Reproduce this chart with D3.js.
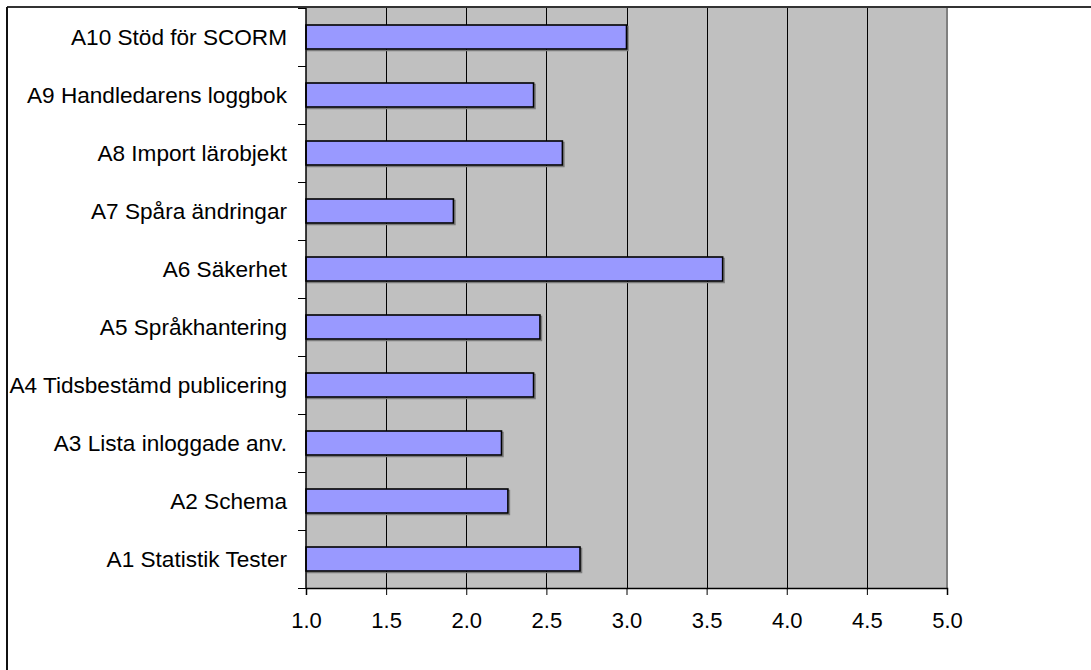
<!DOCTYPE html>
<html>
<head>
<meta charset="utf-8">
<script src="https://cdn.jsdelivr.net/npm/d3@7"></script>
<style>
  html, body { margin: 0; padding: 0; background: #fff; }
  svg { display: block; }
  text { font-family: "Liberation Sans", Arial, sans-serif; fill: #000; }
</style>
</head>
<body>
<svg id="chart" width="1091" height="670"></svg>
<script>
// Categories, listed top to bottom
const categories = [
  "A10 Stöd för SCORM",
  "A9 Handledarens loggbok",
  "A8 Import lärobjekt",
  "A7 Spåra ändringar",
  "A6 Säkerhet",
  "A5 Språkhantering",
  "A4 Tidsbestämd publicering",
  "A3 Lista inloggade anv.",
  "A2 Schema",
  "A1 Statistik Tester"
];
// Mean scores per category
const values = [3.0, 2.42, 2.6, 1.92, 3.6, 2.46, 2.42, 2.22, 2.26, 2.71];
// Value axis
const xDomain = [1, 5];
const xTicks = [1.0, 1.5, 2.0, 2.5, 3.0, 3.5, 4.0, 4.5, 5.0];

const svg = d3.select("#chart");
const W = 1091, H = 670;
const plot = { left: 306, right: 947, top: 8, bottom: 588 };

const x = d3.scaleLinear().domain(xDomain).range([plot.left, plot.right]);
const pad = 1 - 24 / 58;
const y = d3.scaleBand().domain(categories)
  .range([plot.top, plot.bottom])
  .paddingInner(pad).paddingOuter(pad / 2);

// Outer frame (top and left edges)
svg.append("line").attr("x1", 7).attr("x2", W).attr("y1", 7).attr("y2", 7)
  .attr("stroke", "#333").attr("stroke-width", 2);
svg.append("line").attr("x1", 7).attr("x2", 7).attr("y1", 7).attr("y2", H)
  .attr("stroke", "#111").attr("stroke-width", 2);

// Plot background
svg.append("rect")
  .attr("x", plot.left).attr("y", plot.top)
  .attr("width", plot.right - plot.left).attr("height", plot.bottom - plot.top)
  .attr("fill", "#c0c0c0");
svg.append("line")
  .attr("x1", plot.right).attr("x2", plot.right)
  .attr("y1", plot.top).attr("y2", plot.bottom)
  .attr("stroke", "#808080").attr("stroke-width", 2);

// Vertical gridlines
svg.append("g").selectAll("line")
  .data(xTicks.filter(t => t > xDomain[0] && t < xDomain[1]))
  .join("line")
  .attr("x1", d => Math.round(x(d)) + 0.5).attr("x2", d => Math.round(x(d)) + 0.5)
  .attr("y1", plot.top).attr("y2", plot.bottom)
  .attr("stroke", "#000").attr("stroke-width", 1);

// Bars with a soft drop shadow
const bars = svg.append("g");
bars.selectAll("rect.shadow")
  .data(values)
  .join("rect")
  .attr("class", "shadow")
  .attr("x", x(xDomain[0]) + 1.5)
  .attr("y", (d, i) => y(categories[i]) + 1.5)
  .attr("width", d => x(d) - x(xDomain[0]))
  .attr("height", y.bandwidth())
  .attr("fill", "none")
  .attr("stroke", "#7a7a7a")
  .attr("stroke-width", 1.5);
bars.selectAll("rect.bar")
  .data(values)
  .join("rect")
  .attr("class", "bar")
  .attr("x", x(xDomain[0]))
  .attr("y", (d, i) => y(categories[i]))
  .attr("width", d => x(d) - x(xDomain[0]))
  .attr("height", y.bandwidth())
  .attr("fill", "#9999ff")
  .attr("stroke", "#000")
  .attr("stroke-width", 1.6);

// Category axis: ticks at band boundaries
const yAxis = svg.append("g");
yAxis.append("line")
  .attr("x1", plot.left).attr("x2", plot.left)
  .attr("y1", plot.top).attr("y2", plot.bottom)
  .attr("stroke", "#000").attr("stroke-width", 1.5);
const bounds = d3.range(categories.length + 1).map(i => plot.top + i * y.step());
yAxis.selectAll("line.tick")
  .data(bounds)
  .join("line")
  .attr("class", "tick")
  .attr("x1", plot.left - 8).attr("x2", plot.left)
  .attr("y1", d => Math.round(d) + 0.5).attr("y2", d => Math.round(d) + 0.5)
  .attr("stroke", "#000").attr("stroke-width", 1);
yAxis.selectAll("text")
  .data(categories)
  .join("text")
  .attr("x", plot.left - 19)
  .attr("y", d => y(d) + y.bandwidth() / 2)
  .attr("text-anchor", "end")
  .attr("dominant-baseline", "central")
  .attr("font-size", 22.6)
  .text(d => d);

// Value axis at the bottom
const xAxis = d3.axisBottom(x)
  .tickValues(xTicks)
  .tickFormat(d3.format(".1f"))
  .tickSize(7)
  .tickPadding(17);
const gx = svg.append("g")
  .attr("transform", `translate(0,${plot.bottom})`)
  .call(xAxis);
gx.select(".domain").attr("stroke", "#000").attr("stroke-width", 1.5);
gx.selectAll(".tick line").attr("stroke", "#000");
gx.selectAll(".tick text")
  .attr("font-size", 22)
  .attr("font-family", "'Liberation Sans', Arial, sans-serif")
  .attr("fill", "#000");
</script>
</body>
</html>
